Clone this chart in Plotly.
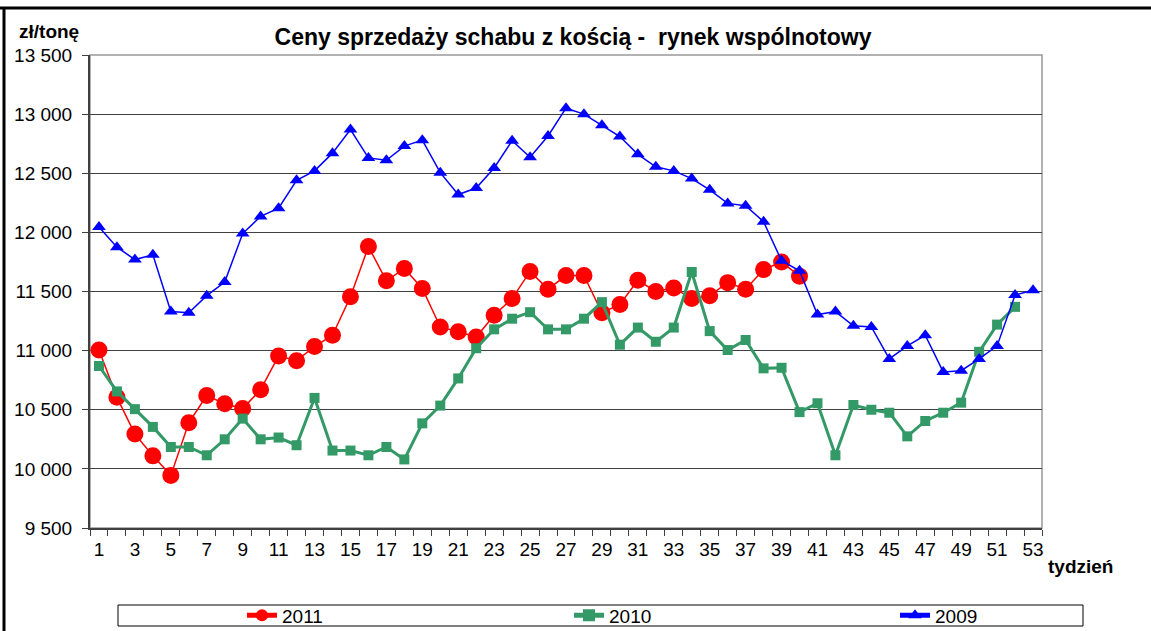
import plotly.graph_objects as go

weeks = list(range(1, 54))

price_2011 = [11005, 10605, 10295, 10110, 9945, 10390, 10620, 10550, 10510, 10670,
              10955, 10915, 11035, 11130, 11455, 11880, 11590, 11695, 11525, 11200,
              11160, 11115, 11300, 11440, 11670, 11520, 11635, 11635, 11320, 11390,
              11595, 11500, 11530, 11440, 11465, 11575, 11520, 11685, 11750, 11630]

price_2010 = [10870, 10655, 10505, 10355, 10185, 10185, 10115, 10250, 10425, 10250,
              10265, 10200, 10600, 10155, 10155, 10115, 10185, 10080, 10385, 10535,
              10765, 11020, 11180, 11270, 11325, 11180, 11180, 11270, 11410, 11050,
              11195, 11075, 11195, 11665, 11165, 11005, 11090, 10850, 10855, 10480,
              10555, 10115, 10540, 10500, 10475, 10275, 10405, 10475, 10560, 10990,
              11220, 11370]

price_2009 = [12045, 11875, 11770, 11810, 11330, 11320, 11465, 11580, 11990, 12135,
              12205, 12440, 12520, 12670, 12870, 12630, 12610, 12730, 12780, 12505,
              12320, 12375, 12545, 12775, 12635, 12815, 13050, 13000, 12905, 12810,
              12660, 12555, 12520, 12455, 12360, 12245, 12225, 12090, 11760, 11675,
              11305, 11330, 11210, 11200, 10930, 11040, 11130, 10820, 10830, 10930,
              11040, 11470, 11510]

x_tick_vals = list(range(1, 54, 2))
x_tick_text = [str(v) for v in x_tick_vals]
y_tick_vals = list(range(9500, 14000, 500))
y_tick_text = ["9 500", "10 000", "10 500", "11 000", "11 500", "12 000", "12 500", "13 000", "13 500"]

FONT = "Liberation Sans, Arial, sans-serif"

fig = go.Figure()
fig.add_trace(go.Scatter(
    x=weeks[:len(price_2011)], y=price_2011, name="2011", mode="lines+markers",
    line=dict(color="#FF0000", width=1.5),
    marker=dict(symbol="circle", size=17, color="#FF0000"), legend="legend"))
fig.add_trace(go.Scatter(
    x=weeks[:len(price_2010)], y=price_2010, name="2010", mode="lines+markers",
    line=dict(color="#339966", width=3),
    marker=dict(symbol="square", size=10, color="#339966"), legend="legend2"))
fig.add_trace(go.Scatter(
    x=weeks[:len(price_2009)], y=price_2009, name="2009", mode="lines+markers",
    line=dict(color="#0000FF", width=1.5),
    marker=dict(symbol="triangle-up", size=12, color="#0000FF"), legend="legend3"))

L, R, T, B = 90, 109, 55, 103
W, H = 1151, 631
pw, ph = W - L - R, H - T - B

def px_x(px):
    return (px - L) / pw

def px_y(py):
    return (H - B - py) / ph

def legend_at(px_left):
    return dict(orientation="h", x=px_x(px_left), xanchor="left", y=px_y(615.5), yanchor="middle",
                bgcolor="rgba(0,0,0,0)", borderwidth=0, itemsizing="constant",
                font=dict(family=FONT, size=19, color="black"))

fig.update_layout(
    width=W, height=H,
    margin=dict(l=L, r=R, t=T, b=B, pad=0, autoexpand=False),
    paper_bgcolor="white", plot_bgcolor="white",
    font=dict(family=FONT, size=19, color="black"),
    title=dict(text="<b>Ceny sprzedaży schabu z kością -  rynek wspólnotowy</b>",
               x=573 / W, xanchor="center", y=1 - 37 / H, yanchor="middle",
               font=dict(family=FONT, size=23, color="black")),
    showlegend=True,
    legend=legend_at(242),
    legend2=legend_at(569),
    legend3=legend_at(895),
    xaxis=dict(range=[0.5, 53.5], tickmode="array", tickvals=x_tick_vals, ticktext=x_tick_text,
               ticks="", showgrid=False, zeroline=False, showline=True, automargin=False,
               linecolor="#404040", linewidth=2, ticklabelstandoff=3,
               tickfont=dict(family=FONT, size=19, color="black"),
               minor=dict(ticks="outside", tick0=0.5, dtick=1, ticklen=6,
                          tickcolor="#404040", tickwidth=1, showgrid=False)),
    yaxis=dict(range=[9500, 13500], tickmode="array", tickvals=y_tick_vals, ticktext=y_tick_text,
               ticks="outside", ticklen=6, tickcolor="#404040", tickwidth=1,
               ticklabelstandoff=6, automargin=False,
               showgrid=True, gridcolor="#404040", gridwidth=1,
               zeroline=False, showline=True, linecolor="#404040", linewidth=2,
               tickfont=dict(family=FONT, size=19, color="black")),
    shapes=[
        dict(type="rect", xref="paper", yref="paper", x0=0, x1=1, y0=0, y1=1,
             line=dict(color="#999999", width=1.5), layer="below"),
        dict(type="line", xref="paper", yref="paper", x0=px_x(0), x1=px_x(W), y0=px_y(8), y1=px_y(8),
             line=dict(color="black", width=3)),
        dict(type="line", xref="paper", yref="paper", x0=px_x(4), x1=px_x(4), y0=px_y(8), y1=px_y(H + 5),
             line=dict(color="black", width=3)),
        dict(type="rect", xref="paper", yref="paper", x0=px_x(118), x1=px_x(1083),
             y0=px_y(626), y1=px_y(605), line=dict(color="black", width=1)),
    ],
    annotations=[
        dict(text="<b>zł/tonę</b>", xref="paper", yref="paper", x=px_x(49), y=px_y(31),
             xanchor="center", yanchor="middle", showarrow=False,
             font=dict(family=FONT, size=19, color="black")),
        dict(text="<b>tydzień</b>", xref="paper", yref="paper", x=px_x(1080), y=px_y(566),
             xanchor="center", yanchor="middle", showarrow=False,
             font=dict(family=FONT, size=19, color="black")),
    ],
)

fig.write_html("out.html", config={"displayModeBar": False},
               post_script="document.body.style.margin='0';")
